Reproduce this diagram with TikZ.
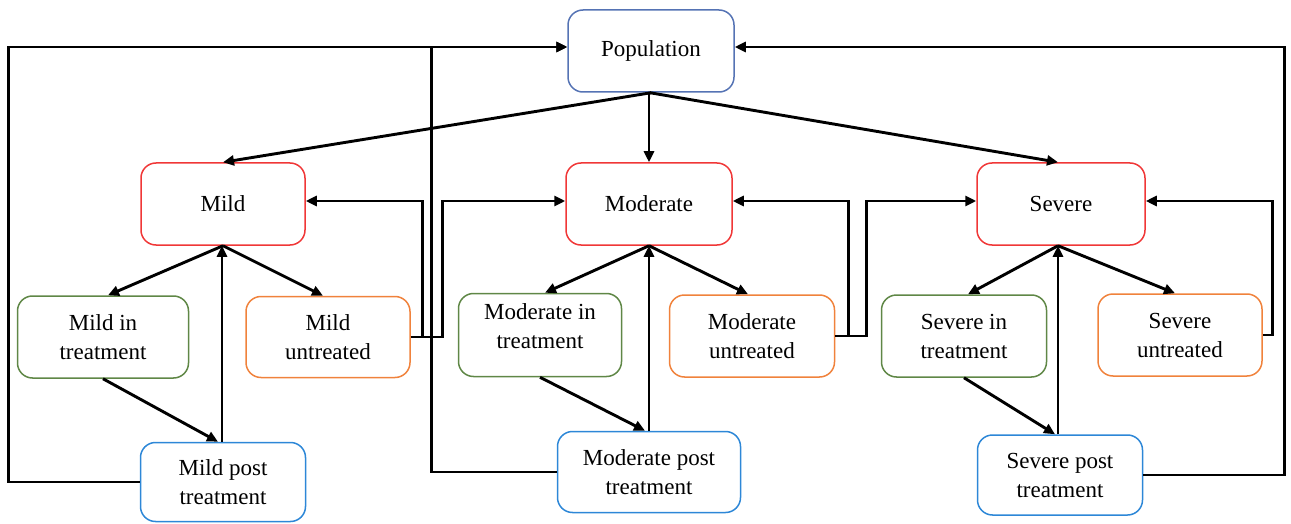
\documentclass[tikz,border=0pt]{standalone}
\usepackage{fontspec}
\setmainfont{Liberation Serif}
\usetikzlibrary{arrows.meta}
\definecolor{popblue}{RGB}{85,115,180}
\definecolor{sevred}{RGB}{240,55,55}
\definecolor{intgreen}{RGB}{95,135,70}
\definecolor{untorange}{RGB}{240,130,60}
\definecolor{postblue}{RGB}{45,135,215}
\tikzset{
  box/.style={draw, line width=0.75pt, rounded corners=7.5pt, inner sep=0pt,
    align=center, font=\fontsize{11.5}{14.5}\selectfont},
  arr/.style={line width=1.45pt, -{Triangle[length=5.5pt,width=5pt]}},
  ln/.style={line width=1.45pt}
}
\begin{document}
\begin{tikzpicture}[x=0.5pt,y=-0.5pt]
\useasboundingbox (0,0) rectangle (1291,524);
% nodes
\node[box, draw=popblue, minimum width=83pt, minimum height=41pt] (pop) at (651,51) {Population};
\node[box, draw=sevred, minimum width=82pt, minimum height=41pt] (mild) at (223,204) {Mild};
\node[box, draw=sevred, minimum width=83pt, minimum height=41pt] (mod) at (649,204) {Moderate};
\node[box, draw=sevred, minimum width=84pt, minimum height=41pt] (sev) at (1061,204) {Severe};
\node[box, draw=intgreen, minimum width=85.5pt, minimum height=41pt] (mit) at (103,337) {Mild in\\treatment};
\node[box, draw=untorange, minimum width=82pt, minimum height=40.5pt] (mu) at (328,337) {Mild\\untreated};
\node[box, draw=postblue, minimum width=82.5pt, minimum height=39.5pt] (mp) at (223,482) {Mild post\\treatment};
\node[box, draw=intgreen, minimum width=81.5pt, minimum height=41.5pt, text depth=9pt] (modit) at (540,335) {Moderate in\\treatment};
\node[box, draw=untorange, minimum width=82.5pt, minimum height=41pt] (modu) at (752,336) {Moderate\\untreated};
\node[box, draw=postblue, minimum width=91.5pt, minimum height=40.5pt] (modp) at (649,472) {Moderate post\\treatment};
\node[box, draw=intgreen, minimum width=82.5pt, minimum height=41pt] (sevit) at (964,336) {Severe in\\treatment};
\node[box, draw=untorange, minimum width=82pt, minimum height=41pt] (sevu) at (1180,335) {Severe\\untreated};
\node[box, draw=postblue, minimum width=82.5pt, minimum height=40pt] (sevp) at (1060,475) {Severe post\\treatment};
% population to severity levels
\draw[arr] (pop.south) -- (mild.north);
\draw[arr] (mod.north |- pop.south) -- (mod.north);
\draw[arr] ([xshift=-0.5pt]pop.south) -- ([xshift=-1.5pt]sev.north);
% mild group
\draw[arr] (mild.south) -- ([xshift=2.5pt]mit.north);
\draw[arr] (mild.south) -- ([xshift=-2.5pt]mu.north);
\draw[arr] ([xshift=-0.5pt]mp.north) -- ([xshift=-0.5pt]mild.south);
\draw[arr] (mit.south) -- ([xshift=-2.5pt]mp.north);
% moderate group
\draw[arr] (mod.south) -- ([xshift=2.5pt]modit.north);
\draw[arr] (mod.south) -- ([xshift=-2pt]modu.north);
\draw[arr] (modp.north) -- (mod.south);
\draw[arr] (modit.south) -- ([xshift=-2pt]modp.north);
% severe group
\draw[arr] ([xshift=-1.5pt]sev.south) -- ([xshift=2pt]sevit.north);
\draw[arr] ([xshift=-1.5pt]sev.south) -- ([xshift=-2.5pt]sevu.north);
\draw[arr] ([xshift=-1pt]sevp.north) -- ([xshift=-1.5pt]sev.south);
\draw[arr] (sevit.south) -- ([xshift=-2.5pt]sevp.north);
% untreated feedback
\draw[arr] (mu.east) -- ++(12,0) |- ([yshift=1.5pt]mild.east);
\draw[arr] (mu.east) -- ++(32,0) |- ([yshift=1.5pt]mod.west);
\draw[arr] (modu.east) -- ++(13,0) |- ([yshift=1.5pt]mod.east);
\draw[arr] (modu.east) -- ++(31,0) |- ([yshift=1.5pt]sev.west);
\draw[arr] (sevu.east) -- ++(10,0) |- ([yshift=1.5pt]sev.east);
% post treatment back to population
\draw[arr] (mp.west) -- ++(-131,0) |- ([yshift=2pt]pop.west);
\draw[arr] (modp.west) -- ++(-125,0) |- ([yshift=2pt]pop.west);
\draw[arr] (sevp.east) -- ++(141,0) |- ([yshift=2pt]pop.east);
\end{tikzpicture}
\end{document}
